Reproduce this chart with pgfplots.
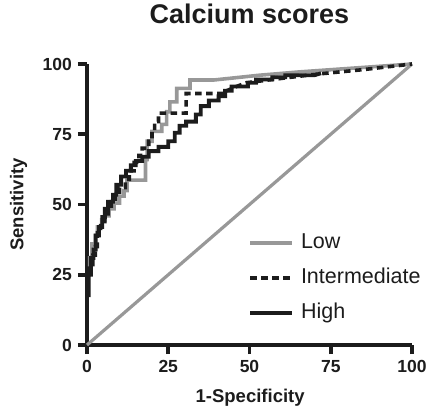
\documentclass[border=0pt]{standalone}
\usepackage{pgfplots}
\pgfplotsset{compat=1.18}
\usepackage{fontspec}
\setmainfont{Liberation Sans}
\definecolor{lowgray}{RGB}{152,152,152}
\definecolor{ink}{RGB}{28,28,28}

\begin{document}
\begin{tikzpicture}
\path[use as bounding box] (-87pt,-62pt) rectangle (341pt,345pt);
\begin{axis}[
  at={(0pt,0pt)}, anchor=south west,
  scale only axis, width=325pt, height=281pt,
  xmin=0, xmax=100, ymin=0, ymax=100,
  clip=false,
  axis lines=left,
  axis line style={-, line width=3.6pt, ink},
  xtick={0,25,50,75,100}, ytick={0,25,50,75,100},
  tick style={line width=3.6pt, ink},
  major tick length=9pt, tick align=outside,
  /pgf/number format/assume math mode=true,
  ticklabel style={font=\bfseries\fontsize{17.5}{17.5}\selectfont, text=ink, inner sep=0pt},
  xticklabel style={yshift=-6pt},
  yticklabel style={xshift=-6pt},
  title={Calcium scores},
  title style={at={(axis description cs:0.5,1.121)}, anchor=base,
    font=\bfseries\fontsize{27}{27}\selectfont, text=ink},
  xlabel={1-Specificity},
  xlabel style={at={(axis description cs:0.502,-0.203)}, anchor=base,
    font=\bfseries\fontsize{18.5}{18.5}\selectfont, text=ink},
  ylabel={Sensitivity},
  ylabel style={at={(axis description cs:-0.196,0.5)}, anchor=base,
    font=\bfseries\fontsize{18.5}{18.5}\selectfont, text=ink},
  legend style={draw=none, fill=none, at={(axis description cs:0.4954,0.4004)},
    anchor=north west, inner sep=0pt, row sep=0pt, column sep=7pt,
    font=\fontsize{21.5}{21.5}\selectfont, text=ink,
    nodes={inner sep=0pt, text height=16pt, text depth=19pt}},
  legend cell align=left,
  legend image code/.code={\draw[#1] (0pt,7pt) -- (42pt,7pt);},
]
% reference line
\addplot[lowgray, line width=3.2pt, forget plot] coordinates {(0,0) (100,100)};

% Low
\addplot[lowgray, line width=3.6pt] coordinates {
(0.8,28) (0.8,31) (1.5,31) (1.5,36) (2.5,36) (2.5,39) (3.2,39) (3.2,42)
(4.5,42) (4.5,44.5) (5.5,44.5) (5.5,46) (6.8,46) (6.8,48.5) (8.3,48.5)
(8.3,50.5) (10,50.5) (10,53) (11.4,53) (11.4,55) (12.3,55) (12.3,58.7)
(18,58.7) (18,66) (18.5,66) (18.5,72.5) (20,72.5) (20,76) (23,76) (23,78.5)
(24.5,78.5) (24.5,83) (25.5,83) (25.5,86.5) (27.6,86.5) (27.6,91.3)
(31.7,91.3) (31.7,94.3) (39,94.3) (53,96) (65.5,97.2) (100,100)};

% Intermediate
\addplot[ink, line width=3.6pt, dash pattern=on 6.5pt off 4.5pt] coordinates {
(0.3,18) (0.3,24) (0.9,24) (0.9,28) (1.8,28) (1.8,32) (2.6,32) (2.6,35)
(3.2,35) (3.2,40) (4.2,40) (4.2,42.5) (5.5,42.5) (5.5,45) (6.5,45) (6.5,48)
(7.5,48) (7.5,51) (8.8,51) (8.8,53.5) (10,53.5) (10,56) (11.8,56) (11.8,59)
(13,59) (13,62) (14.5,62) (14.5,65) (16,65) (16,67.5) (17,67.5) (17,70)
(19,70) (19,72.5) (20,72.5) (20,76) (20.8,76) (20.8,79.5) (22,79.5)
(22,82.5) (30.5,82.5) (30.5,89.5) (43,89.5) (43,90.5) (46,92) (49,93.3)
(55,94.2) (70,96.3) (85,98) (100,100)};

% High
\addplot[ink, line width=3.8pt] coordinates {
(0.5,17) (0.5,25) (1.2,25) (1.2,31) (2,31) (2,34) (2.7,34) (2.7,39)
(3.7,39) (3.7,42) (4.7,42) (4.7,45.5) (5.5,45.5) (5.5,48.5) (6.5,48.5)
(6.5,51) (8,51) (8,53.5) (9,53.5) (9,57) (10.5,57) (10.5,60) (12,60)
(12,62) (13.5,62) (13.5,64) (15,64) (15,65.5) (17,65.5) (17,67) (19,67)
(19,69) (22,69) (22,70.5) (25,70.5) (25,72.5) (27,72.5) (27,75.5)
(28.5,75.5) (28.5,78) (30.5,78) (30.5,79.5) (33.5,79.5) (33.5,82) (35,82)
(35,85) (37.5,85) (37.5,87) (40.5,87) (40.5,88.5) (42.5,88.5) (42.5,90.5)
(44.5,90.5) (44.5,92) (49.5,92) (49.5,93.3) (52,93.3) (52,94.5) (57,94.5)
(57,95.3) (61,95.3) (61,96) (70,96) (72,96.7)};

\legend{Low,Intermediate,High}
\end{axis}
\end{tikzpicture}
\end{document}
